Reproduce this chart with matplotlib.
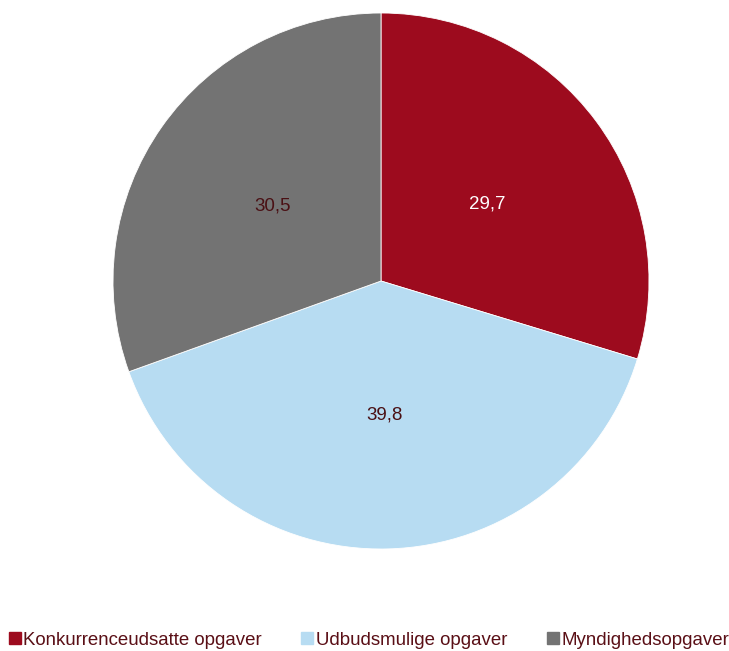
import numpy as np
import matplotlib.pyplot as plt
from matplotlib.lines import Line2D

plt.rcParams['font.family'] = ['Liberation Sans', 'DejaVu Sans']

# data
categories = ['Konkurrenceudsatte opgaver', 'Udbudsmulige opgaver', 'Myndighedsopgaver']
values = [29.7, 39.8, 30.5]
colors = ['#9d0b1e', '#b7dcf2', '#737373']
label_colors = ['white', '#4a1014', '#4a1014']
text_color = '#5a0f16'

fig = plt.figure(figsize=(7.29, 6.51), dpi=100)
ax = fig.add_axes([113 / 729, 102 / 651, 536 / 729, 536 / 651])

wedges, texts = ax.pie(values, colors=colors, startangle=90, counterclock=False,
                       radius=1, wedgeprops=dict(linewidth=0.6, edgecolor='white'))

# value labels inside the slices
for w, v, c in zip(wedges, values, label_colors):
    ang = np.deg2rad((w.theta1 + w.theta2) / 2)
    ax.text(0.495 * np.cos(ang), 0.495 * np.sin(ang) - 0.006, f"{v:.1f}".replace('.', ','),
            ha='center', va='center', fontsize=13.5, color=c)

ax.set_xlim(-1, 1)
ax.set_ylim(-1, 1)
ax.set_aspect('equal')

handles = [Line2D([], [], marker='s', linestyle='', markersize=8, color=c) for c in colors]
leg = fig.legend(handles, categories, loc='center', bbox_to_anchor=(0.507, 1 - 640 / 651),
                 ncol=3, frameon=False, fontsize=13.4, handlelength=0.5, handletextpad=0.2,
                 columnspacing=2.2)
for t in leg.get_texts():
    t.set_color(text_color)

plt.savefig('out.png', dpi=100)
